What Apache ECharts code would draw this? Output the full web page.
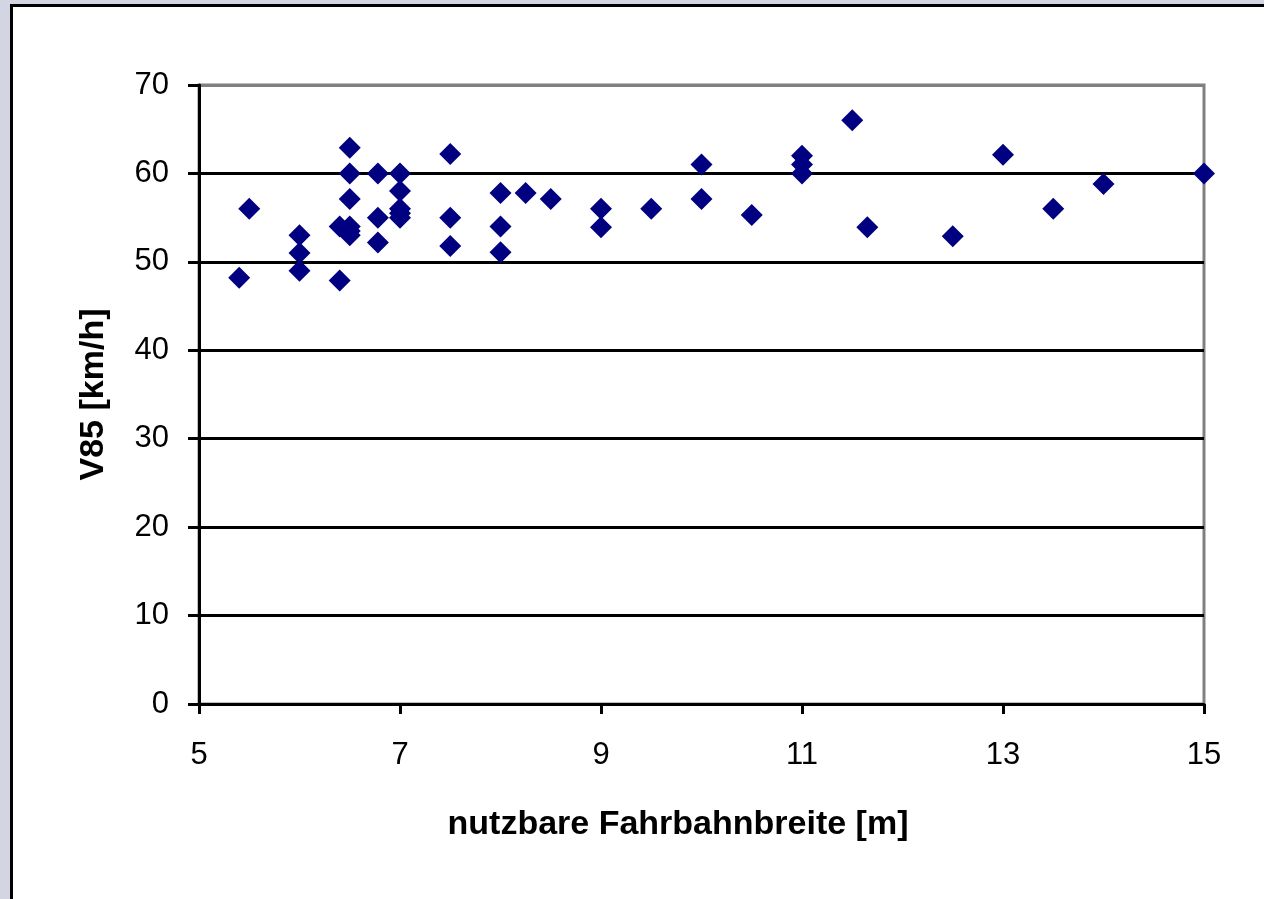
<!DOCTYPE html>
<html>
<head>
<meta charset="utf-8">
<script src="https://cdn.jsdelivr.net/npm/echarts@6/dist/echarts.min.js"></script>
<style>
  html, body { margin: 0; padding: 0; width: 1264px; height: 899px; overflow: hidden; background: #D3D5E3; }
  #frame { position: absolute; left: 10px; top: 4px; width: 1300px; height: 950px; background: #fff; border-left: 3px solid #000; border-top: 3px solid #000; }
  #chart { position: absolute; left: 0; top: 0; width: 1264px; height: 899px; }
</style>
</head>
<body>
<div id="frame"></div>
<div id="chart"></div>
<script>
// nutzbare Fahrbahnbreite [m]
var widths = [5.4, 5.5, 6, 6, 6, 6.4, 6.4, 6.5, 6.5, 6.5, 6.5, 6.5, 6.5,
              6.78, 6.78, 6.78, 7, 7, 7, 7, 7, 7.5, 7.5, 7.5,
              8, 8, 8, 8.25, 8.5, 9, 9, 9.5, 10, 10, 10.5,
              11, 11, 11, 11.5, 11.65, 12.5, 13, 13.5, 14, 15];
// V85 [km/h]
var speeds = [48.2, 56, 53, 51, 49, 54, 47.9, 62.9, 60, 57.1, 54, 53.5, 53,
              60, 55, 52.2, 60, 58, 56, 55.5, 55, 62.2, 55, 51.8,
              57.8, 54, 51.1, 57.8, 57.1, 56, 53.9, 56, 61, 57.1, 55.3,
              62, 61, 60, 66, 53.9, 52.9, 62.1, 56, 58.8, 60];
var xTitle = 'nutzbare Fahrbahnbreite [m]';
var yTitle = 'V85 [km/h]';

var points = widths.map(function (w, i) { return [w, speeds[i]]; });

var chart = echarts.init(document.getElementById('chart'), null, { renderer: 'canvas' });
var font = '"Liberation Sans", Arial, sans-serif';
chart.setOption({
  backgroundColor: 'transparent',
  animation: false,
  grid: {
    left: 199, top: 85, right: 60, bottom: 195,
    show: true, backgroundColor: '#fff', borderColor: '#808080', borderWidth: 3
  },
  xAxis: {
    type: 'value', min: 5, max: 15, interval: 2,
    axisLine: { show: true, onZero: false, lineStyle: { color: '#000', width: 3 } },
    axisTick: { show: true, inside: false, length: 10, lineStyle: { color: '#000', width: 3 } },
    axisLabel: { color: '#000', fontSize: 31, fontFamily: font, margin: 36 },
    splitLine: { show: false }
  },
  yAxis: {
    type: 'value', min: 0, max: 70, interval: 10,
    name: yTitle, nameLocation: 'middle', nameRotate: 90, nameGap: 88,
    nameTextStyle: { color: '#000', fontSize: 34, fontWeight: 'bold', fontFamily: font },
    axisLine: { show: true, lineStyle: { color: '#000', width: 3 } },
    axisTick: { show: true, inside: false, length: 11, lineStyle: { color: '#000', width: 3 } },
    axisLabel: { color: '#000', fontSize: 31, fontFamily: font, margin: 30 },
    splitLine: { show: true, lineStyle: { color: ['#000', '#000', '#000', '#000', '#000', '#000', '#000', '#808080'], width: 3 } }
  },
  graphic: [{
    type: 'text',
    x: 678, y: 808,
    style: { text: xTitle, fill: '#000', font: 'bold 34px ' + font, textAlign: 'center', textVerticalAlign: 'top' }
  }],
  series: [{
    type: 'scatter',
    data: points,
    symbol: 'diamond',
    symbolSize: [22, 22],
    clip: false,
    itemStyle: { color: '#000080', opacity: 1 }
  }]
});
</script>
</body>
</html>
